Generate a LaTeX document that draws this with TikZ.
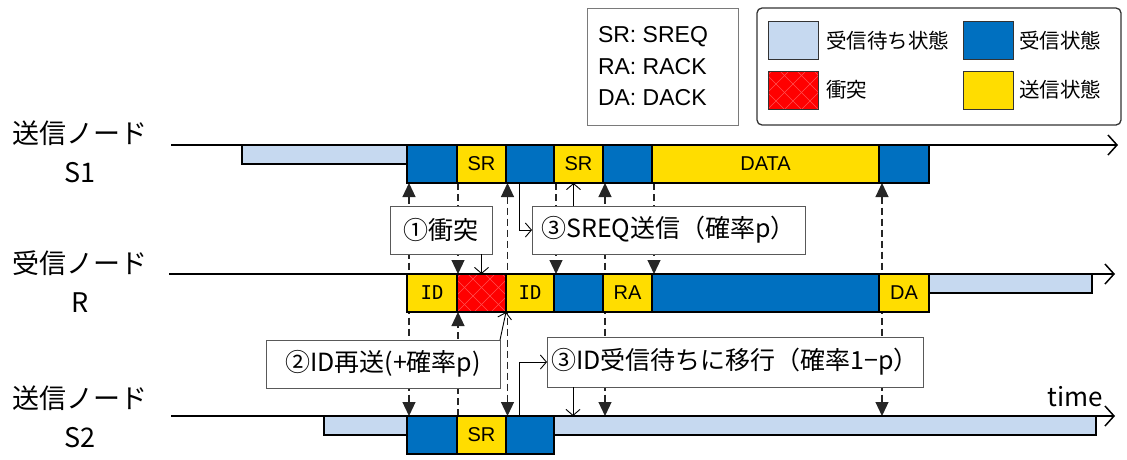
\documentclass[tikz,border=0pt]{standalone}
\usepackage{fontspec}
\setmainfont{Noto Sans CJK JP}
\newfontfamily\latf{Liberation Sans}
\newfontfamily\monof{DejaVu Sans Mono}
\usetikzlibrary{arrows.meta}
\definecolor{waitc}{HTML}{C6D9F0}
\definecolor{rxc}{HTML}{0070C0}
\definecolor{txc}{HTML}{FFDD00}
\definecolor{colc}{HTML}{FF0000}
\definecolor{hatchc}{HTML}{FF5050}
\definecolor{boxc}{HTML}{595959}
\pgfdeclarelayer{bg}
\pgfsetlayers{bg,main}
\begin{document}
\begin{tikzpicture}[x=1pt,y=-1pt,
  every node/.style={inner sep=0pt,outer sep=0pt},
  cellbase/.style={draw=black,line width=1.3pt,minimum height=38pt,anchor=north west,font=\latf\fontsize{20}{22}\selectfont},
  waitcell/.style={draw=black,line width=1.3pt,fill=waitc,minimum height=19pt,anchor=north west},
  rxcell/.style={cellbase,fill=rxc},
  txcell/.style={cellbase,fill=txc},
  idcell/.style={cellbase,fill=txc,font=\monof\fontsize{19}{21}\selectfont},
  hatch/.style={fill=colc,path picture={
     \foreach \k in {-5,...,5}{
       \draw[hatchc,line width=0.6pt] ([xshift=\k*17pt]path picture bounding box.south west) -- ++(70pt,70pt);
       \draw[hatchc,line width=0.6pt] ([xshift=\k*17pt]path picture bounding box.south east) -- ++(-70pt,70pt);
     }}},
  colcell/.style={cellbase,hatch},
  rowlab/.style={font=\fontsize{27}{30}\selectfont},
  axisline/.style={line width=1.5pt,-{Straight Barb[length=9pt,width=20pt]}},
  dashline/.style={line width=1.2pt,dash pattern=on 7pt off 4pt,draw=black!85},
  tri/.tip={Triangle[length=14pt,width=13pt]},
  callout/.style={draw=boxc,line width=0.9pt,fill=white,minimum height=48pt,font=\fontsize{25}{27}\selectfont},
  callarr/.style={line width=0.9pt,-{Straight Barb[length=6pt,width=14pt]}},
  swatch/.style={draw=black!80,line width=1pt,minimum width=50pt,minimum height=38pt,anchor=north west},
  legtext/.style={anchor=west,font=\fontsize{20.5}{22}\selectfont},
  abbrtext/.style={anchor=west,font=\latf\fontsize{23}{25}\selectfont}
]
\useasboundingbox (0,0) rectangle (1127,459);

% ---------- legend ----------
\node[draw=boxc!80,line width=1pt,minimum width=151pt,minimum height=117pt,anchor=north west] (abbr) at (587,8) {};
\node[abbrtext] (ab1) at (598,37) {SR: SREQ};
\node[abbrtext] (ab2) at (598,67) {RA: RACK};
\node[abbrtext] (ab3) at (598,98) {DA: DACK};

\node[draw=black!80,line width=1.3pt,rounded corners=5pt,minimum width=364pt,minimum height=117pt,anchor=north west] (leg) at (757,8) {};
\node[swatch,fill=waitc] (k1) at (768,21) {};
\node[legtext] (t1) at (826,41) {受信待ち状態};
\node[swatch,fill=rxc] (k2) at (963,21) {};
\node[legtext] (t2) at (1019,41) {受信状態};
\node[swatch,hatch] (k3) at (768,71) {};
\node[legtext] (t3) at (826,90) {衝突};
\node[swatch,fill=txc] (k4) at (963,71) {};
\node[legtext] (t4) at (1019,90) {送信状態};

% ---------- row labels ----------
\node[rowlab] (lab1) at (80,133) {送信ノード};
\node[rowlab] (lab1b) at (80,173) {S1};
\node[rowlab] (lab2) at (80,263) {受信ノード};
\node[rowlab] (lab2b) at (80,303) {R};
\node[rowlab] (lab3) at (80,398) {送信ノード};
\node[rowlab] (lab3b) at (80,438) {S2};
\node[font=\fontsize{26}{28}\selectfont] (tm) at (1075,397) {time};

% ---------- S1 ----------
\node[waitcell,minimum width=165pt] (s1w) at (242,145) {};
\node[rxcell,minimum width=50pt] (s1a) at (407,145) {};
\node[txcell,minimum width=49pt] (s1b) at (457,145) {SR};
\node[rxcell,minimum width=48pt] (s1c) at (506,145) {};
\node[txcell,minimum width=49pt] (s1d) at (554,145) {SR};
\node[rxcell,minimum width=49pt] (s1e) at (603,145) {};
\node[txcell,minimum width=227pt] (s1f) at (652,145) {DATA};
\node[rxcell,minimum width=50pt] (s1g) at (879,145) {};

% ---------- R ----------
\node[idcell,minimum width=50pt] (rid1) at (407,274) {ID};
\node[colcell,minimum width=49pt] (rx) at (457,274) {};
\node[idcell,minimum width=48pt] (rid2) at (506,274) {ID};
\node[rxcell,minimum width=49pt] (rb1) at (554,274) {};
\node[txcell,minimum width=49pt] (rra) at (603,274) {RA};
\node[rxcell,minimum width=227pt] (rb2) at (652,274) {};
\node[txcell,minimum width=50pt] (rda) at (879,274) {DA};
\node[waitcell,minimum width=163pt] (rw) at (929,274) {};

% ---------- S2 ----------
\node[waitcell,minimum width=83pt] (s2w) at (324,416) {};
\node[rxcell,minimum width=50pt] (s2a) at (407,416) {};
\node[txcell,minimum width=49pt] (s2b) at (457,416) {SR};
\node[rxcell,minimum width=48pt] (s2c) at (506,416) {};
\node[waitcell,minimum width=542pt] (s2v) at (554,416) {};

% ---------- callouts ----------
\node[callout,minimum width=102pt] (c1) at (441,230) {①衝突};
\node[callout,minimum width=273pt] (c3) at (668.5,230) {③SREQ送信（確率p）};
\node[callout,minimum width=234pt] (c2) at (383,364) {②ID再送(+確率p)};
\node[callout,minimum width=376pt,minimum height=50pt] (c4) at (735,362) {③ID受信待ちに移行（確率1−p）};

% ---------- axes and dashed timing lines ----------
\coordinate (a1l) at (171,145); \coordinate (a1r) at (1118,145);
\coordinate (a2l) at (169,274); \coordinate (a2r) at (1115,274);
\coordinate (a3l) at (171,416); \coordinate (a3r) at (1115,416);
\coordinate (p4) at ([xshift=49pt]s2v.north west);
\coordinate (p6) at ([xshift=325pt]s2v.north west);
\begin{pgfonlayer}{bg}
\draw[axisline] (a1l) -- (a1r);
\draw[axisline] (a2l) -- (a2r);
\draw[axisline] (a3l) -- (a3r);
\draw[dashline,tri-tri] ([xshift=2pt]s1a.south west) -- ([xshift=2pt]s2a.north west);
\draw[dashline,-tri] ([xshift=1pt]s1b.south west) -- ([xshift=1pt]rx.north west);
\draw[dashline,-tri] ([xshift=1pt]s2b.north west) -- ([xshift=1pt]rx.south west);
\draw[dashline,tri-tri] ([xshift=1.5pt]s1c.south west) -- ([xshift=1.5pt]s2c.north west);
\draw[dashline,-tri] ([xshift=2pt]s1d.south west) -- ([xshift=2pt]rb1.north west);
\draw[dashline,tri-tri] ([xshift=2pt]s1e.south west) -- ([xshift=2pt]p4);
\draw[dashline,-tri] ([xshift=2pt]s1f.south west) -- ([xshift=2pt]rb2.north west);
\draw[dashline,tri-tri] ([xshift=3pt]s1g.south west) -- ([xshift=3pt]p6);
\end{pgfonlayer}

% ---------- thin callout arrows ----------
\coordinate (d1) at ([xshift=-5pt]s1d.south);
\coordinate (f1) at ([xshift=19pt]s2v.north west);
\draw[callarr] (c1.south -| rx.north) -- (rx.north);
\draw[callarr] (c2.north east) -- (rx.south east);
\draw[callarr] ([xshift=-11pt]s1c.south) |- (c3.west);
\draw[callarr] (c3.north -| d1) -- (d1);
\draw[callarr] ([xshift=-11pt]s2c.north) |- (c4.west);
\draw[callarr] (c4.south -| f1) -- (f1);
\end{tikzpicture}
\end{document}
